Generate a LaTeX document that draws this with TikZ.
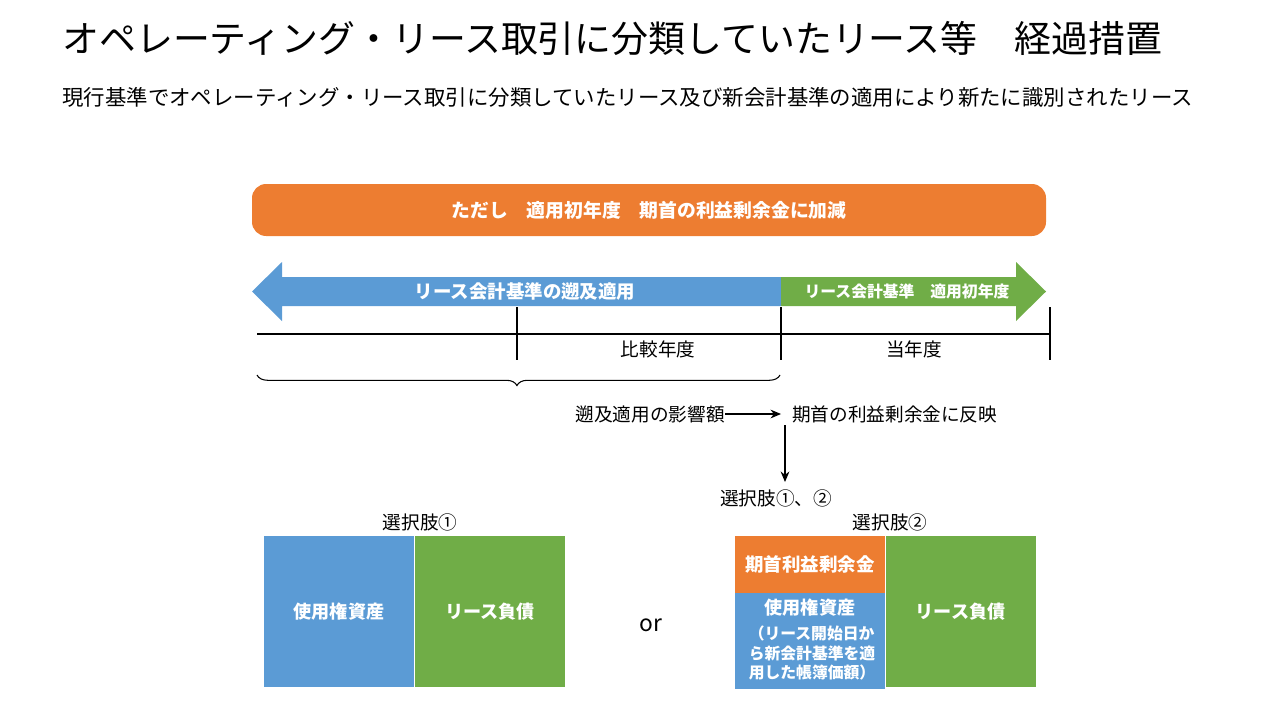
\documentclass[tikz,border=0pt]{standalone}
\usepackage{fontspec}
\setmainfont{Noto Sans CJK JP}
\usetikzlibrary{arrows.meta,decorations.pathreplacing}
\definecolor{orng}{HTML}{ED7D31}
\definecolor{blu}{HTML}{5B9BD5}
\definecolor{grn}{HTML}{70AD47}
\tikzset{
  lbl/.style={inner sep=0pt, font=\fontsize{10.6}{12}\selectfont},
  wlbl/.style={inner sep=0pt, text=white, font=\fontsize{10.5}{12}\selectfont\bfseries},
  blk/.style={inner sep=0pt, minimum width=3cm, text=white, font=\fontsize{10.3}{12}\selectfont\bfseries},
}
\begin{document}
\begin{tikzpicture}[x=0.02cm,y=-0.02cm]
  \useasboundingbox (0,0) rectangle (1280,720);
  % title
  \node[anchor=west, inner sep=0pt, font=\fontsize{21}{24}\selectfont] (title) at (62,38)
    {オペレーティング・リース取引に分類していたリース等　経過措置};
  \node[anchor=west, inner sep=0pt, font=\fontsize{12.2}{14}\selectfont] (sub) at (62,97)
    {現行基準でオペレーティング・リース取引に分類していたリース及び新会計基準の適用により新たに識別されたリース};
  % orange bar
  \fill[orng, rounded corners=8] (252,184) rectangle (1046,236);
  \node[wlbl, font=\fontsize{10.7}{12}\selectfont\bfseries] (bar) at (649,210) {ただし　適用初年度　期首の利益剰余金に加減};
  % double arrow
  \fill[blu] (781,277) -- (282,277) -- (282,262) -- (252,291.5) -- (282,321) -- (282,306) -- (781,306) -- cycle;
  \fill[grn] (781,277) -- (1016,277) -- (1016,262) -- (1046,291.5) -- (1016,321) -- (1016,306) -- (781,306) -- cycle;
  \node[wlbl] (retro) at (525,291.5) {リース会計基準の遡及適用};
  \node[wlbl, font=\fontsize{9}{11}\selectfont\bfseries] (first) at (907,291.5) {リース会計基準　適用初年度};
  % time line
  \coordinate (t0) at (257,334);
  \coordinate (t3) at (1050,334);
  \foreach \x/\n in {517/a, 781/b, 1050/c} {
    \coordinate (\n1) at (\x,307);
    \coordinate (\n2) at (\x,360);
  }
  \begin{scope}[black, line width=0.6pt]
    \draw (t0) -- (t3);
    \draw (a1) -- (a2);
    \draw (b1) -- (b2);
    \draw (c1) -- (c2);
  \end{scope}
  \node[lbl] (cmp) at (658,349) {比較年度};
  \node[lbl] (cur) at (914,349) {当年度};
  % brace
  \coordinate (br0) at (257,375);
  \coordinate (br1) at (780,375);
  \draw[line width=0.6pt, decorate, decoration={brace, mirror, amplitude=6pt, aspect=0.497}] (br0) -- (br1);
  \node[lbl, anchor=east] (eff) at (725,414) {遡及適用の影響額};
  \node[lbl, anchor=west] (refl) at (792,414) {期首の利益剰余金に反映};
  \draw[-{Stealth[length=6pt,width=5pt]}, line width=0.6pt] (eff.east) -- (781,414);
  \coordinate (up) at (785,425);
  \coordinate (dn) at (785,482);
  \draw[-{Stealth[length=6pt,width=5pt]}, line width=0.6pt] (up) -- (dn);
  \node[lbl, anchor=west] (both) at (720,498) {選択肢①、②};
  % option 1
  \node[lbl] (opt1) at (420,522) {選択肢①};
  \node[blk, fill=blu, minimum height=3.02cm] (rou1) at (339,611.5) {使用権資産};
  \node[blk, fill=grn, minimum height=3.02cm] (liab1) at (490,611.5) {リース負債};
  \node[inner sep=0pt, font=\fontsize{13}{15}\selectfont] (or) at (651,625) {or};
  % option 2
  \node[lbl] (opt2) at (890,522) {選択肢②};
  \node[blk, fill=orng, minimum height=1.14cm, font=\fontsize{10.5}{12}\selectfont\bfseries] (re) at (810,564.5) {期首利益剰余金};
  \node[blk, fill=blu, minimum height=1.92cm, anchor=north, align=center] (rou2) at (810,593) {};
  \node[wlbl, font=\fontsize{10.3}{12}\selectfont\bfseries] (rou2t) at (810,608) {使用権資産};
  \node[wlbl, font=\fontsize{9}{11.3}\selectfont\bfseries, align=left] (rou2n) at (812,653)
    {（リース開始日か\\ら新会計基準を適\\用した帳簿価額）};
  \node[blk, fill=grn, minimum height=3.02cm] (liab2) at (960.5,611.5) {リース負債};
\end{tikzpicture}
\end{document}
